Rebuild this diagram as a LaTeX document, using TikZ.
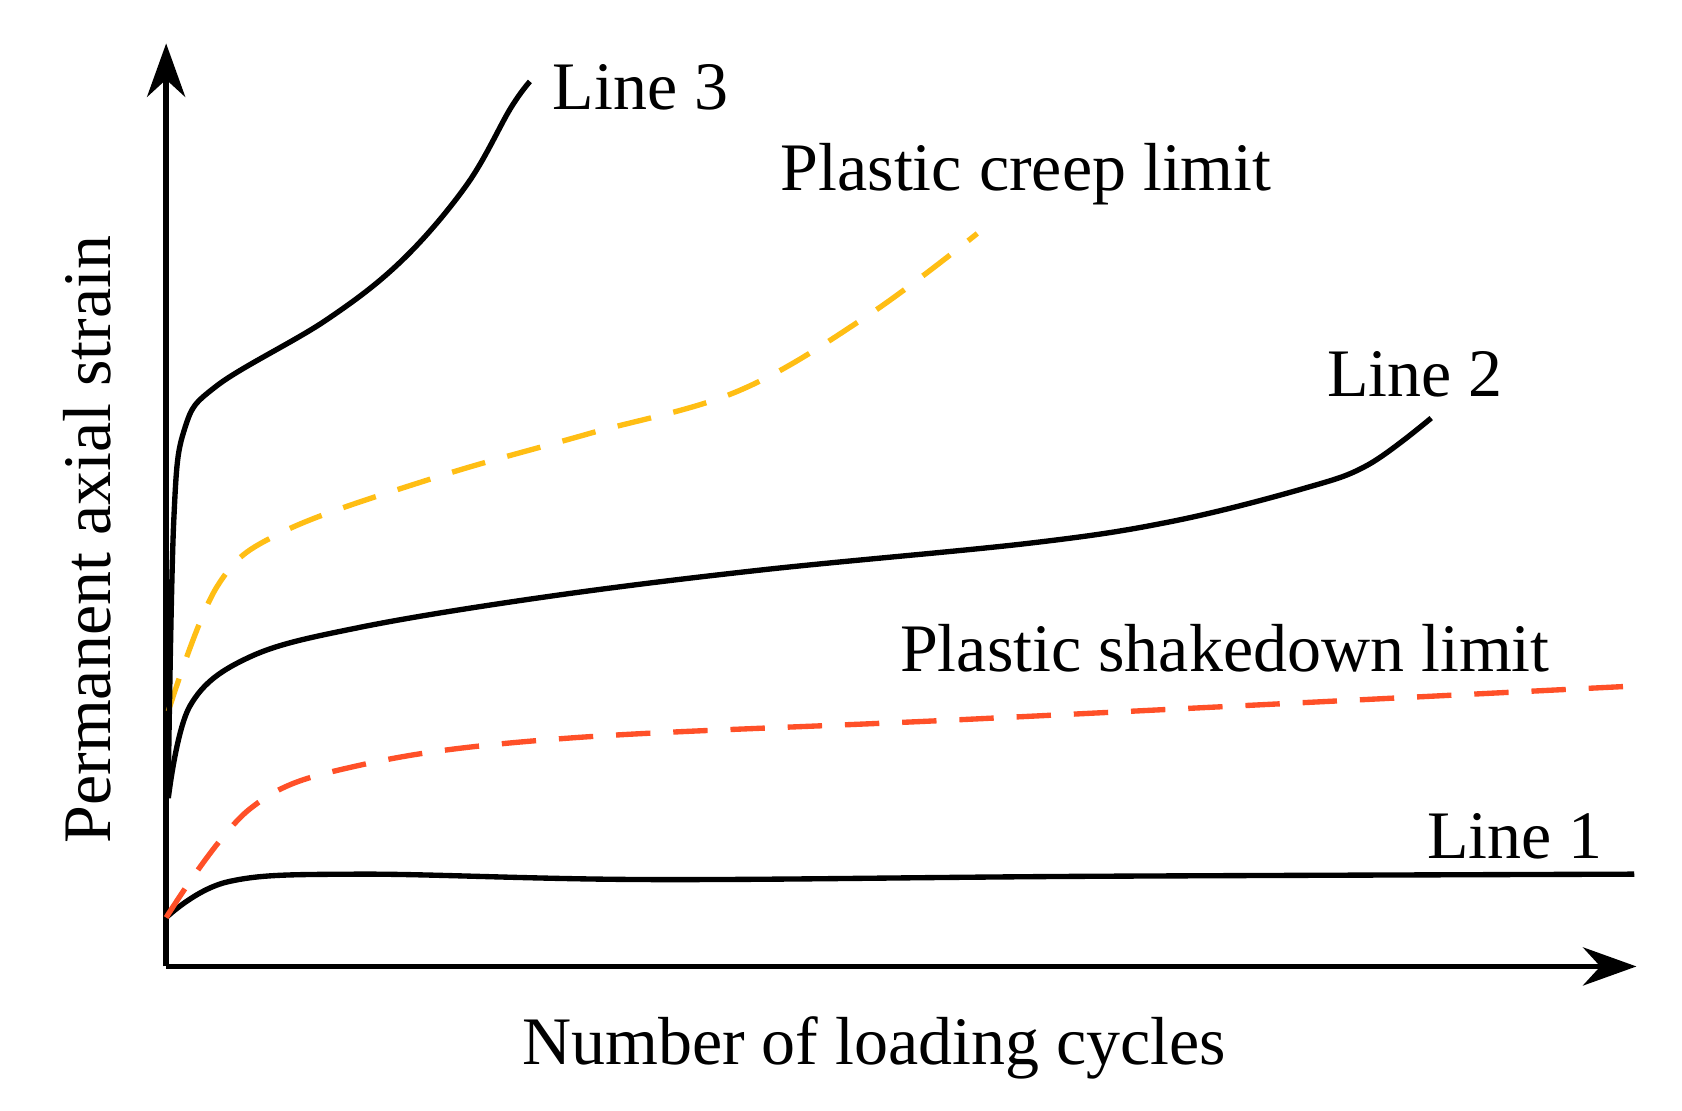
\documentclass[tikz,border=0pt]{standalone}
\usepackage{fontspec}
\setmainfont{Liberation Serif}
\usetikzlibrary{arrows.meta}
\definecolor{myred}{RGB}{255,80,40}
\definecolor{myyel}{RGB}{255,190,20}
\begin{document}
\begin{tikzpicture}[x=0.01cm,y=-0.01cm,
  curve/.style={line width=1.4pt,smooth,tension=0.6},
  dashcurve/.style={line width=1.4pt,dash pattern=on 9pt off 6pt,smooth,tension=0.6},
  lab/.style={font=\fontsize{17.8}{21}\selectfont,inner sep=0pt}]
\useasboundingbox (0,0) rectangle (1549,1023);
\coordinate (o) at (153,890);
\coordinate (yt) at (153,40);
\coordinate (xt) at (1507,890);
\draw[line width=1.4pt,-{Stealth[length=14pt,width=10pt]}] (o) -- (yt);
\draw[line width=1.4pt,-{Stealth[length=14pt,width=10pt]}] (o) -- (xt);
\draw[curve] plot coordinates {(153,845) (210,812) (330,805) (600,810) (1000,807) (1505,805)};
\draw[dashcurve,myred] plot coordinates {(153,845) (230,745) (330,705) (520,680) (900,662) (1500,632)};
\draw[curve] plot coordinates {(155,735) (175,650) (230,605) (330,578) (500,550) (700,525) (950,500) (1080,480) (1200,450) (1260,428) (1318,385)};
\draw[dashcurve,myyel] plot coordinates {(155,655) (200,540) (260,490) (400,440) (540,400) (680,360) (800,290) (900,215)};
\draw[curve] plot coordinates {(155,720) (160,480) (170,395) (200,355) (300,295) (370,240) (430,170) (470,100) (488,75)};
\node[lab] (l3) at (590,80) {Line 3};
\node[lab] (pc) at (945,160) {Plastic creep limit};
\node[lab] (l2) at (1303,345) {Line 2};
\node[lab] (ps) at (1128,597) {Plastic shakedown limit};
\node[lab] (l1) at (1395,770) {Line 1};
\node[lab] (xl) at (805,965) {Number of loading cycles};
\node[lab,rotate=90] (yl) at (80,497) {Permanent axial strain};
\end{tikzpicture}
\end{document}
